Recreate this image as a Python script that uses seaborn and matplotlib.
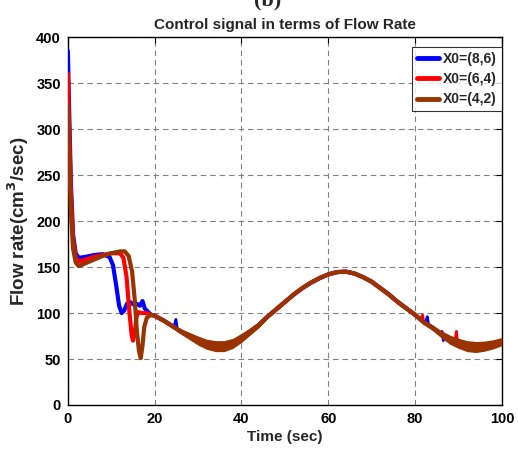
import numpy as np
import pandas as pd
import matplotlib
matplotlib.use("Agg")
import matplotlib.pyplot as plt
import seaborn as sns

# ----------------------------------------------------------------
# DATA
# ----------------------------------------------------------------
# start-up transient of each run (t in sec, flow rate in cm^3/sec)
blue_t = [0, 0.3, 0.7, 1.2, 1.8, 2.5, 4, 6, 8, 9.6, 10.4, 11.2, 11.8, 12.4, 13.0, 13.6, 14.3, 15.2, 15.9, 16.6, 17.2, 17.7, 18.3, 19.2]
blue_y = [385, 320, 240, 185, 165, 160, 161, 163, 164, 161, 152, 128, 108, 100, 103, 110, 112, 109, 110, 108, 113, 105, 102, 98]

red_t = [0, 0.3, 0.7, 1.2, 1.8, 2.5, 4, 6, 8, 10, 12, 12.8, 13.5, 14.2, 14.7, 15.0, 15.4, 15.8, 16.2, 17.0, 18.0, 19.2]
red_y = [360, 300, 230, 180, 160, 156, 158, 161, 163, 165, 165, 160, 140, 100, 76, 70, 78, 95, 101, 100, 100, 98]

brown_t = [0, 0.3, 0.7, 1.2, 1.8, 2.5, 4, 6, 8, 10, 12, 13.1, 14.0, 14.8, 15.4, 15.9, 16.4, 16.8, 17.2, 17.6, 18.2, 19.2]
brown_y = [325, 270, 210, 170, 155, 151, 154, 158, 162, 165, 167, 167, 162, 145, 115, 80, 58, 51, 65, 85, 95, 98]

# common tracking part (all three runs overlap here)
common_t = [20, 22, 24, 26, 28, 30, 32, 34, 36, 38, 40, 42, 44, 46, 48, 50, 52, 54, 56, 58, 60,
            62, 64, 66, 68, 70, 72, 74, 76, 78, 80, 82, 84, 86, 88, 90, 92, 94, 96, 98, 100]
common_y = [97, 92, 86, 80, 75, 70, 66, 64, 64, 67, 73, 80, 87, 96, 104, 112, 120, 127, 133, 138, 142,
            144.5, 145, 143, 139, 134, 127, 120, 112, 105, 98, 90, 84, 77, 71, 67, 64, 63, 64, 66, 69]
# half-width of the chattering band around the common curve
band_w = [1, 1.5, 2, 3, 4, 5, 5.5, 6, 6, 5.5, 5, 4, 3, 2, 1.5, 1, 1, 1, 1, 1, 1,
          1, 1, 1, 1, 1, 1, 1, 1, 1.5, 2, 2.5, 3, 4, 5, 5.5, 6, 6, 5.5, 5, 4.5]

# small spikes of blue / red that poke out of the band (id, t, y)
blue_spk_id = [0, 0, 0, 1, 1, 1, 2, 2]
blue_spk_t = [24.6, 24.9, 25.2, 82.4, 82.8, 83.2, 86.2, 86.5]
blue_spk_y = [88, 93, 83, 90, 96, 85, 80, 70]
red_spk_id = [0, 0, 0, 1, 1, 1]
red_spk_t = [81.3, 81.7, 82.1, 89.2, 89.5, 89.8]
red_spk_y = [93, 98, 88, 70, 80, 68]

labels = ["X0=(8,6)", "X0=(6,4)", "X0=(4,2)"]
colors = ["#0000FF", "#FF0000", "#993300"]

# ----------------------------------------------------------------
# STYLE
# ----------------------------------------------------------------
sns.set_theme(style="whitegrid")
plt.rcParams["font.family"] = ["Liberation Sans", "DejaVu Sans"]
plt.rcParams["font.weight"] = "bold"

fig = plt.figure(figsize=(5.18, 4.53), dpi=100)
ax = fig.add_axes([0.131, 0.106, 0.838, 0.812])
ax.set_facecolor("white")

frames = []
for lab, tt, yy in [(labels[0], blue_t, blue_y), (labels[1], red_t, red_y), (labels[2], brown_t, brown_y)]:
    frames.append(pd.DataFrame({"t": tt + common_t, "y": yy + common_y, "run": lab}))

for i, f in enumerate(frames):
    sns.lineplot(data=f, x="t", y="y", color=colors[i], lw=3, estimator=None, sort=False,
                 label=labels[i], ax=ax, zorder=3 + i)

spk_b = pd.DataFrame({"id": blue_spk_id, "t": blue_spk_t, "y": blue_spk_y})
spk_r = pd.DataFrame({"id": red_spk_id, "t": red_spk_t, "y": red_spk_y})
sns.lineplot(data=spk_b, x="t", y="y", units="id", color=colors[0], lw=2, estimator=None,
             sort=False, ax=ax, zorder=3, legend=False)
sns.lineplot(data=spk_r, x="t", y="y", units="id", color=colors[1], lw=2, estimator=None,
             sort=False, ax=ax, zorder=4, legend=False)

ct = np.array(common_t)
cy = np.array(common_y)
bw = np.array(band_w)
ax.fill_between(ct, cy - bw, cy + bw, color=colors[2], lw=0, zorder=6)

ax.set_xlim(0, 100)
ax.set_ylim(0, 400)
ax.set_xticks(range(0, 101, 20))
ax.set_yticks(range(0, 401, 50))
ax.minorticks_off()
ax.grid(True, which="major", color="#808080", ls=(0, (5, 3.5)), lw=0.8)
for s in ax.spines.values():
    s.set_color("black")
    s.set_linewidth(1.0)
ax.tick_params(direction="in", length=4, width=0.8, top=True, right=True,
               labelsize=10.5, colors="black", pad=5)
for lbl in ax.get_xticklabels() + ax.get_yticklabels():
    lbl.set_fontweight("bold")

ax.set_xlabel("Time (sec)", fontsize=11, fontweight="bold", labelpad=3)
ax.set_ylabel("Flow rate(cm$^3$/sec)", fontsize=13.5, fontweight="bold", labelpad=4)
ax.set_title("Control signal in terms of Flow Rate", fontsize=11, fontweight="bold", pad=6)

# panel tag, cut at the top edge as in the source figure
fig.text(0.517, 1.0, "(b)", fontsize=16, family="Liberation Serif", ha="center", va="center")

leg = ax.legend(loc="upper right", bbox_to_anchor=(1.0, 0.973), fontsize=10, frameon=True,
                fancybox=False, edgecolor="black", handlelength=1.6, borderaxespad=0.0,
                labelspacing=0.45, handletextpad=0.3, borderpad=0.35)
leg.get_frame().set_linewidth(0.8)
for t in leg.get_texts():
    t.set_fontweight("bold")
for h in leg.get_lines():
    h.set_linewidth(3.5)

fig.savefig("out.png", dpi=100)
